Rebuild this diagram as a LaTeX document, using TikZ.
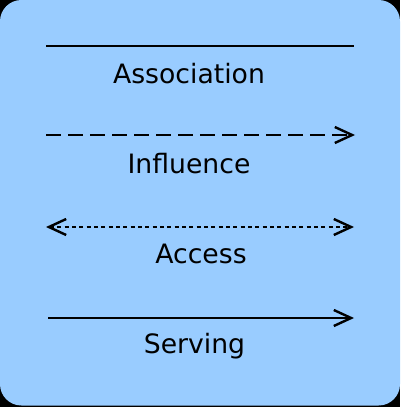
\documentclass[tikz,border=0pt]{standalone}
\usepackage{fontspec}
\setmainfont{DejaVu Sans}
\usetikzlibrary{arrows.meta}
\definecolor{bgblue}{RGB}{153,204,255}
\tikzset{barb/.tip={Straight Barb[length=13pt,width=12pt,line width=1.8pt]}}
\begin{document}
\begin{tikzpicture}[x=0.75pt,y=-0.75pt,
  rel/.style={line width=2pt,black},
  lbl/.style={anchor=base,inner sep=0pt,font=\fontsize{20}{24}\selectfont}]
\fill[black] (0,0) rectangle (400,407);
\useasboundingbox (0,0) rectangle (400,407);
\fill[bgblue,rounded corners=16pt] (0,0) rectangle (400,405.5);
% Association
\coordinate (a1) at (46,46); \coordinate (a2) at (354,46);
\draw[rel] (a1) -- (a2);
\node[lbl] (la) at (189,83) {Association};
% Influence
\coordinate (i1) at (46,135); \coordinate (i2) at (355,135);
\draw[rel,dash pattern=on 11pt off 5.5pt,-{barb}] (i1) -- (i2);
\node[lbl] (li) at (189,173) {Influence};
% Access
\coordinate (c1) at (46,227); \coordinate (c2) at (354,227);
\draw[rel,line width=1.6pt,dash pattern=on 3pt off 2.5pt,{barb}-{barb}] (c1) -- (c2);
\node[lbl] (lc) at (201,263) {Access};
% Serving
\coordinate (s1) at (48,318); \coordinate (s2) at (354,318);
\draw[rel,-{barb}] (s1) -- (s2);
\node[lbl] (ls) at (194.5,353) {Serving};
\end{tikzpicture}
\end{document}
